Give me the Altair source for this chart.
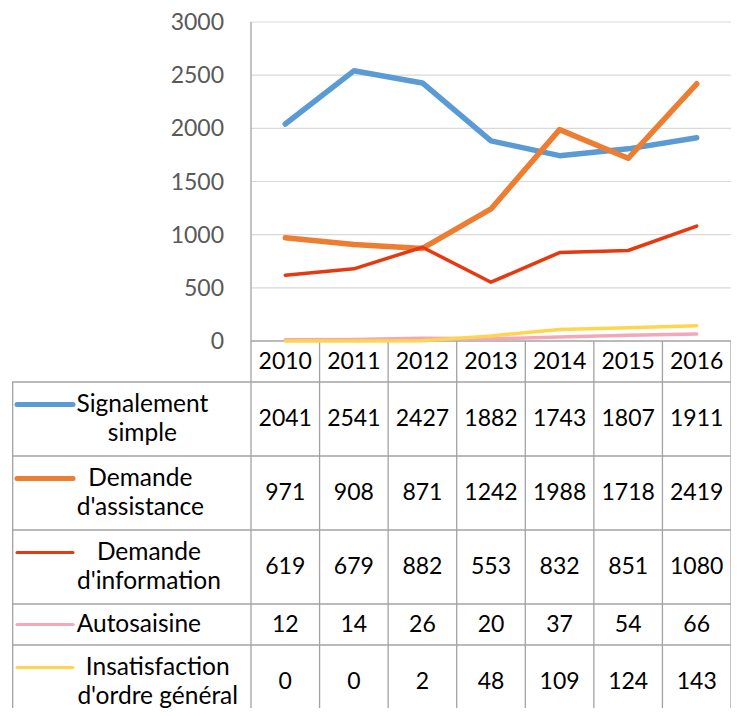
import altair as alt
import pandas as pd

# ---------------- data ----------------
years = ["2010", "2011", "2012", "2013", "2014", "2015", "2016"]
series = ["Signalement simple", "Demande d'assistance", "Demande d'information",
          "Autosaisine", "Insatisfaction d'ordre général"]
row_labels = ["Signalement\nsimple", "Demande\nd'assistance", "Demande\nd'information",
              "Autosaisine", "Insatisfaction\nd'ordre général"]
signalement = [2041, 2541, 2427, 1882, 1743, 1807, 1911]
assistance = [971, 908, 871, 1242, 1988, 1718, 2419]
information = [619, 679, 882, 553, 832, 851, 1080]
autosaisine = [12, 14, 26, 20, 37, 54, 66]
insatisfaction = [0, 0, 2, 48, 109, 124, 143]
y_ticks = [0, 500, 1000, 1500, 2000, 2500, 3000]

values = [signalement, assistance, information, autosaisine, insatisfaction]
colors = ["#5B9BD5", "#ED7D31", "#E8380F", "#F4A7B9", "#FFD54F"]
widths = [5.5, 5.5, 3.5, 3.5, 3.5]

# ---------------- layout helpers ----------------
FONT = "Lato"
FS = 23
FS_LAB = 24.5
PX = 3000 / 319          # value units per vertical pixel
COL = 68.57              # pixels per year column
X_MIN = -(251 - 12) / COL
PLOT_H = 686
Y_MIN = -(PLOT_H - 319) * PX
LINE_H = 29
xs = alt.Scale(domain=[X_MIN, 7], nice=False, zero=False)
ys = alt.Scale(domain=[Y_MIN, 3000], nice=False, zero=False)
GRID = "#D9D9D9"
BORDER = "#A3A3A3"

n_lines = [len(l.split("\n")) for l in row_labels]
row_px = [41 if n == 1 else 74 for n in n_lines]
bounds_px = [0, 41]
for h in row_px:
    bounds_px.append(bounds_px[-1] + h)
row_center_px = [(bounds_px[i + 1] + bounds_px[i + 2]) / 2 for i in range(len(series))]
first_line_px = [c - (n - 1) * LINE_H / 2 for c, n in zip(row_center_px, n_lines)]

# rough Lato advance widths (em)
CW = {'a': .50, 'b': .56, 'c': .46, 'd': .56, 'e': .52, 'é': .52, 'f': .32, 'g': .50,
      'h': .56, 'i': .24, 'j': .24, 'k': .50, 'l': .24, 'm': .84, 'n': .56, 'o': .56,
      'p': .56, 'q': .56, 'r': .36, 's': .42, 't': .35, 'u': .56, 'v': .50, 'w': .76,
      'x': .49, 'y': .50, 'z': .45, "'": .22, ' ': .25, 'A': .68, 'D': .72, 'I': .27,
      'S': .51}


def text_w(s):
    return max(sum(CW.get(c, .55) for c in line) for line in s.split("\n")) * FS_LAB


LABEL_LEFT = (77 - 251) / COL
label_x = [LABEL_LEFT + text_w(l) / 2 / COL for l in row_labels]

X = lambda f: alt.X(f, type="quantitative", scale=xs, axis=None)
Y = lambda f: alt.Y(f, type="quantitative", scale=ys, axis=None)

layers = []

# gridlines
grid_df = pd.DataFrame({"y": y_ticks[1:], "x": 0, "x2": 7})
layers.append(alt.Chart(grid_df).mark_rule(color=GRID, strokeWidth=1.2).encode(
    x=X("x"), x2="x2", y=Y("y")))

# table horizontal borders
h_rows = [{"y": 0, "x": 0, "x2": 7}]
for b in bounds_px[1:-1]:
    h_rows.append({"y": -b * PX, "x": X_MIN, "x2": 7})
layers.append(alt.Chart(pd.DataFrame(h_rows)).mark_rule(color=BORDER, strokeWidth=1.3).encode(
    x=X("x"), x2="x2", y=Y("y")))

# table vertical borders
v_rows = [{"x": 0, "y": 3000, "y2": Y_MIN}]
for i in range(1, 8):
    v_rows.append({"x": i, "y": 0, "y2": Y_MIN})
v_rows.append({"x": X_MIN + 0.01, "y": -bounds_px[1] * PX, "y2": Y_MIN})
layers.append(alt.Chart(pd.DataFrame(v_rows)).mark_rule(color=BORDER, strokeWidth=1.3).encode(
    x=X("x"), y=Y("y"), y2="y2"))

# y-axis labels
yl_df = pd.DataFrame({"v": y_ticks, "x": 0, "t": [str(t) for t in y_ticks]})
layers.append(alt.Chart(yl_df).mark_text(font=FONT, fontSize=FS, color="#595959",
                                          align="right", baseline="middle", dx=-27, dy=1).encode(
    x=X("x"), y=Y("v"), text="t:N"))

# lines
for s, vals, c, w in zip(series, values, colors, widths):
    df = pd.DataFrame({"x": [i + 0.5 for i in range(len(years))], "v": vals})
    layers.append(alt.Chart(df).mark_line(color=c, strokeWidth=w, strokeCap="round",
                                          strokeJoin="round").encode(x=X("x"), y=Y("v")))

# header years
hdr_df = pd.DataFrame({"x": [i + 0.5 for i in range(len(years))], "y": -20.5 * PX, "t": years})
layers.append(alt.Chart(hdr_df).mark_text(font=FONT, fontSize=FS, color="black",
                                           baseline="middle").encode(
    x=X("x"), y=Y("y"), text="t:N"))

# table values
cells = []
for r, vals in enumerate(values):
    for i, v in enumerate(vals):
        cells.append({"x": i + 0.5, "y": -row_center_px[r] * PX, "t": str(v)})
layers.append(alt.Chart(pd.DataFrame(cells)).mark_text(font=FONT, fontSize=FS, color="black",
                                                        baseline="middle").encode(
    x=X("x"), y=Y("y"), text="t:N"))

# row labels (first line anchored at y, following lines below)
lab_df = pd.DataFrame({"x": label_x, "y": [-c * PX for c in first_line_px], "t": row_labels})
layers.append(alt.Chart(lab_df).mark_text(font=FONT, fontSize=FS_LAB, color="black",
                                           baseline="middle", align="center",
                                           lineBreak="\n", lineHeight=LINE_H).encode(
    x=X("x"), y=Y("y"), text="t:N"))

# legend swatches
for r, (c, w) in enumerate(zip(colors, widths)):
    df = pd.DataFrame({"x": [(17 - 251) / COL], "x2": [(73 - 251) / COL],
                       "y": [-first_line_px[r] * PX]})
    layers.append(alt.Chart(df).mark_rule(color=c, strokeWidth=w - 0.5, strokeCap="round").encode(
        x=X("x"), x2="x2", y=Y("y")))

chart = alt.layer(*layers).properties(
    width=719, height=PLOT_H,
    autosize=alt.AutoSizeParams(type="none"),
    padding={"left": 4, "top": 14, "right": 0, "bottom": 0},
).configure_view(stroke=None)

chart.save("out.html", embed_options={"renderer": "svg", "actions": False})
